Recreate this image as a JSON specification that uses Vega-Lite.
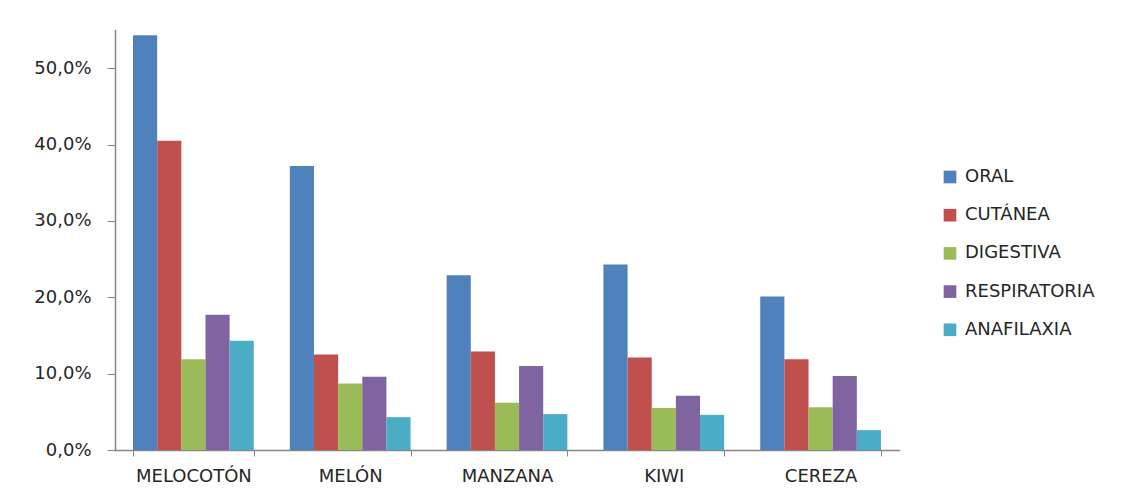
{
  "$schema": "https://vega.github.io/schema/vega-lite/v6.json",
  "width": 784,
  "height": 420,
  "autosize": {"type": "none"},
  "padding": {"left": 115, "top": 30, "right": 236, "bottom": 45},
  "background": "white",
  "data": {
    "values": [
      {"fruta": "MELOCOTÓN", "tipo": "ORAL", "valor": 0.543},
      {"fruta": "MELOCOTÓN", "tipo": "CUTÁNEA", "valor": 0.405},
      {"fruta": "MELOCOTÓN", "tipo": "DIGESTIVA", "valor": 0.119},
      {"fruta": "MELOCOTÓN", "tipo": "RESPIRATORIA", "valor": 0.177},
      {"fruta": "MELOCOTÓN", "tipo": "ANAFILAXIA", "valor": 0.143},
      {"fruta": "MELÓN", "tipo": "ORAL", "valor": 0.372},
      {"fruta": "MELÓN", "tipo": "CUTÁNEA", "valor": 0.125},
      {"fruta": "MELÓN", "tipo": "DIGESTIVA", "valor": 0.087},
      {"fruta": "MELÓN", "tipo": "RESPIRATORIA", "valor": 0.096},
      {"fruta": "MELÓN", "tipo": "ANAFILAXIA", "valor": 0.043},
      {"fruta": "MANZANA", "tipo": "ORAL", "valor": 0.229},
      {"fruta": "MANZANA", "tipo": "CUTÁNEA", "valor": 0.129},
      {"fruta": "MANZANA", "tipo": "DIGESTIVA", "valor": 0.062},
      {"fruta": "MANZANA", "tipo": "RESPIRATORIA", "valor": 0.110},
      {"fruta": "MANZANA", "tipo": "ANAFILAXIA", "valor": 0.047},
      {"fruta": "KIWI", "tipo": "ORAL", "valor": 0.243},
      {"fruta": "KIWI", "tipo": "CUTÁNEA", "valor": 0.121},
      {"fruta": "KIWI", "tipo": "DIGESTIVA", "valor": 0.055},
      {"fruta": "KIWI", "tipo": "RESPIRATORIA", "valor": 0.071},
      {"fruta": "KIWI", "tipo": "ANAFILAXIA", "valor": 0.046},
      {"fruta": "CEREZA", "tipo": "ORAL", "valor": 0.201},
      {"fruta": "CEREZA", "tipo": "CUTÁNEA", "valor": 0.119},
      {"fruta": "CEREZA", "tipo": "DIGESTIVA", "valor": 0.056},
      {"fruta": "CEREZA", "tipo": "RESPIRATORIA", "valor": 0.097},
      {"fruta": "CEREZA", "tipo": "ANAFILAXIA", "valor": 0.026}
    ]
  },
  "mark": {"type": "bar"},
  "encoding": {
    "x": {
      "field": "fruta",
      "type": "nominal",
      "sort": null,
      "scale": {"paddingInner": 0.23, "paddingOuter": 0.115},
      "axis": {
        "title": null,
        "labelAngle": 0,
        "tickBand": "extent",
        "ticks": true,
        "tickSize": 6,
        "tickColor": "#868686",
        "domainColor": "#868686",
        "domainWidth": 1.5,
        "labelPadding": 11,
        "labelFont": "DejaVu Sans",
        "labelFontSize": 18,
        "labelColor": "#262626"
      }
    },
    "xOffset": {
      "field": "tipo",
      "type": "nominal",
      "sort": ["ORAL", "CUTÁNEA", "DIGESTIVA", "RESPIRATORIA", "ANAFILAXIA"],
      "scale": {"paddingInner": 0, "paddingOuter": 0}
    },
    "y": {
      "field": "valor",
      "type": "quantitative",
      "scale": {"domain": [0, 0.55], "nice": false},
      "axis": {
        "title": null,
        "values": [0, 0.1, 0.2, 0.3, 0.4, 0.5],
        "labelExpr": "replace(format(datum.value, '.1%'), '.', ',')",
        "grid": false,
        "tickSize": 8,
        "tickColor": "#868686",
        "domainColor": "#868686",
        "domainWidth": 1.5,
        "labelPadding": 16,
        "labelFont": "DejaVu Sans",
        "labelFontSize": 18,
        "labelColor": "#262626"
      }
    },
    "color": {
      "field": "tipo",
      "type": "nominal",
      "sort": ["ORAL", "CUTÁNEA", "DIGESTIVA", "RESPIRATORIA", "ANAFILAXIA"],
      "scale": {
        "domain": ["ORAL", "CUTÁNEA", "DIGESTIVA", "RESPIRATORIA", "ANAFILAXIA"],
        "range": ["#4F81BD", "#C0504D", "#9BBB59", "#8064A2", "#4BACC6"]
      },
      "legend": {
        "title": null,
        "orient": "none",
        "legendX": 826,
        "legendY": 138,
        "padding": 0,
        "symbolType": "square",
        "symbolSize": 160,
        "symbolStrokeWidth": 0,
        "symbolOffset": 0,
        "labelFont": "DejaVu Sans",
        "labelFontSize": 18,
        "labelColor": "#262626",
        "labelOffset": 6,
        "rowPadding": 20.2
      }
    }
  },
  "config": {
    "view": {"stroke": null},
    "axis": {"domainCap": "square"}
  }
}
